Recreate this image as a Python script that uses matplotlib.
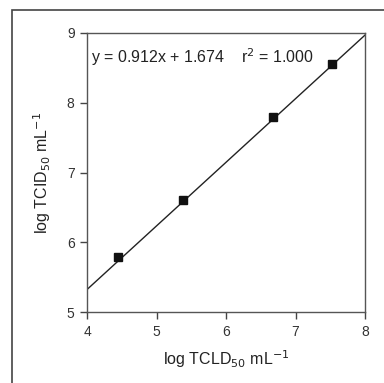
import matplotlib
matplotlib.use("Agg")
import matplotlib.pyplot as plt
import numpy as np
from matplotlib.patches import Rectangle

plt.rcParams['font.family'] = ['Liberation Sans', 'DejaVu Sans']

x_vals = [4.45, 5.38, 6.68, 7.53]
y_vals = [5.79, 6.61, 7.79, 8.55]
slope = 0.912
intercept = 1.674
x_ticks = [4, 5, 6, 7, 8]
y_ticks = [5, 6, 7, 8, 9]

fig = plt.figure(figsize=(3.84, 3.83), dpi=100)
ax = fig.add_axes([87/384, 1-312/383, (365-87)/384, (312-33)/383])

xl = np.array([4, 8])
ax.plot(xl, slope*xl + intercept, color='#222222', lw=1.0)
ax.plot(x_vals, y_vals, 's', color='#111111', ms=6)

ax.set_xlim(4, 8)
ax.set_ylim(5, 9)
ax.set_xticks(x_ticks)
ax.set_yticks(y_ticks)
ax.tick_params(direction='out', length=5, width=1, color='#444444', labelsize=10, labelcolor='#333333', pad=4)
for s in ax.spines.values():
    s.set_color('#555555')
    s.set_linewidth(1.0)

ax.text(0.015, 0.915, 'y = 0.912x + 1.674    r$^2$ = 1.000', transform=ax.transAxes,
        fontsize=11.5, color='#222222', va='center', ha='left')

ax.set_xlabel('log TCLD$_{50}$ mL$^{-1}$', fontsize=11.5, color='#222222', labelpad=7)
ax.set_ylabel('log TCID$_{50}$ mL$^{-1}$', fontsize=11.5, color='#222222', labelpad=10)

fig.patches.append(Rectangle((12/384, -0.05), 1.2, 1-10/383+0.05, transform=fig.transFigure,
                             fill=False, edgecolor='#444444', lw=1.2))

fig.savefig('out.png', dpi=100)
